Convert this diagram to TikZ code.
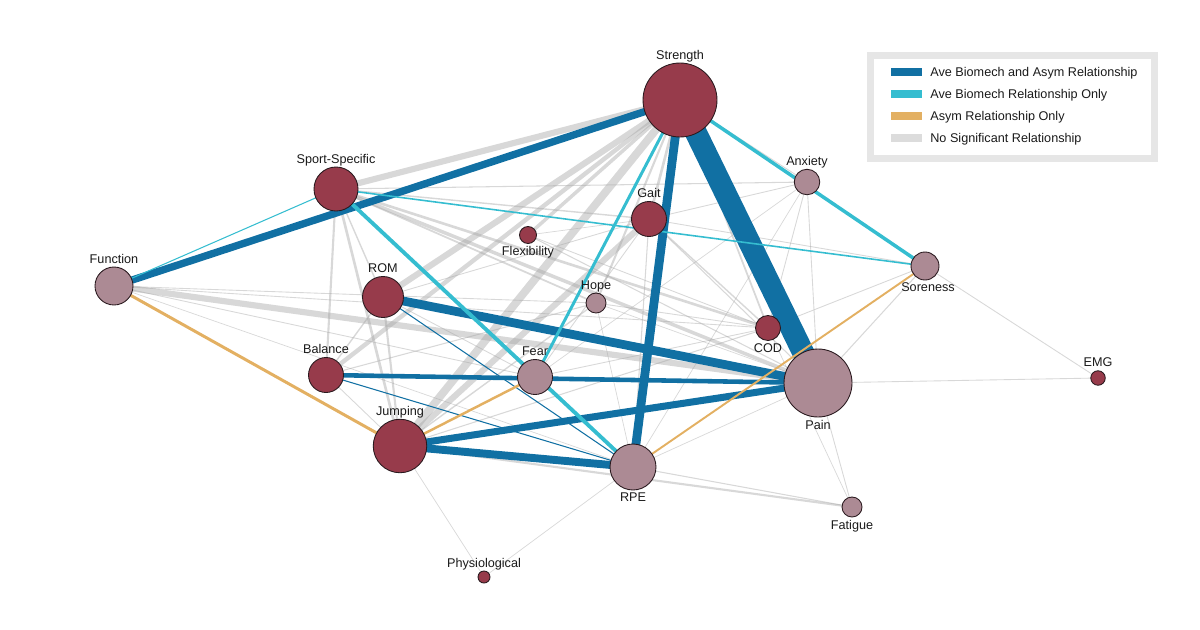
\documentclass[tikz,border=0pt]{standalone}
\usepackage{fontspec}
\setmainfont{Liberation Sans}
\definecolor{bothblue}{HTML}{1170A3}
\definecolor{avecyan}{HTML}{35BDD0}
\definecolor{asymorange}{HTML}{E3B062}
\definecolor{nonegray}{HTML}{DCDCDC}
\definecolor{nsline}{HTML}{A8A8A8}
\definecolor{ballred}{HTML}{973B4B}
\definecolor{ballmauve}{HTML}{AC8A94}
\definecolor{ballline}{HTML}{2A1A1F}
\definecolor{boxgray}{HTML}{E6E6E6}
\definecolor{labeltext}{HTML}{1A1A1A}
\pgfdeclarelayer{edges}
\pgfsetlayers{edges,main}
\tikzset{
  ball/.style={circle, draw=ballline, line width=0.5pt, inner sep=0pt},
  redball/.style={ball, fill=ballred},
  mauveball/.style={ball, fill=ballmauve},
  abovelbl/.style={inner sep=0pt, text depth=0pt, label distance=1.7pt, text=labeltext},
  belowlbl/.style={inner sep=0pt, label distance=1.2pt, text=labeltext},
  nsedge/.style={draw=nsline, draw opacity=0.45},
  bothedge/.style={draw=bothblue},
  aveedge/.style={draw=avecyan},
  asymedge/.style={draw=asymorange},
  legtext/.style={anchor=base west, inner sep=0pt, text=labeltext}
}
\begin{document}
\begin{tikzpicture}[x=0.02cm, y=-0.02cm, font=\fontsize{7.2}{8.6}\selectfont]
\useasboundingbox (0,0) rectangle (1200,629);
\node[redball, minimum size=1.48cm, label={[abovelbl]above:Strength}] (str) at (680,100) {};
\node[redball, minimum size=0.88cm, label={[abovelbl]above:Sport-Specific}] (spo) at (336,189) {};
\node[mauveball, minimum size=0.76cm, label={[abovelbl]above:Function}] (fun) at (114,286) {};
\node[redball, minimum size=0.82cm, label={[abovelbl]above:ROM}] (rom) at (383,297) {};
\node[redball, minimum size=0.70cm, label={[abovelbl]above:Balance}] (bal) at (326,375) {};
\node[redball, minimum size=1.07cm, label={[abovelbl]above:Jumping}] (jum) at (400,446) {};
\node[mauveball, minimum size=0.70cm, label={[abovelbl]above:Fear}] (fea) at (535,377) {};
\node[mauveball, minimum size=0.92cm, label={[belowlbl]below:RPE}] (rpe) at (633,467) {};
\node[mauveball, minimum size=1.36cm, label={[belowlbl]below:Pain}] (pai) at (818,383) {};
\node[redball, minimum size=0.70cm, label={[abovelbl]above:Gait}] (gai) at (649,219) {};
\node[redball, minimum size=0.34cm, label={[belowlbl]below:Flexibility}] (fle) at (528,235) {};
\node[mauveball, minimum size=0.40cm, label={[abovelbl]above:Hope}] (hop) at (596,303) {};
\node[redball, minimum size=0.50cm, label={[belowlbl]below:COD}] (cod) at (768,328) {};
\node[mauveball, minimum size=0.51cm, label={[abovelbl]above:Anxiety}] (anx) at (807,182) {};
\node[mauveball, minimum size=0.56cm, label={[belowlbl, xshift=0.06cm]below:Soreness}] (sor) at (925,266) {};
\node[redball, minimum size=0.29cm, label={[abovelbl]above:EMG}] (emg) at (1098,378) {};
\node[mauveball, minimum size=0.40cm, label={[belowlbl]below:Fatigue}] (fat) at (852,507) {};
\node[redball, minimum size=0.24cm, label={[abovelbl]above:Physiological}] (phy) at (484,577) {};
\begin{pgfonlayer}{edges}
\draw[nsedge, line width=3.5pt] (str.center) -- (spo.center);
\draw[nsedge, line width=3.5pt] (str.center) -- (rom.center);
\draw[nsedge, line width=2.5pt] (str.center) -- (bal.center);
\draw[nsedge, line width=4.5pt] (str.center) -- (jum.center);
\draw[nsedge, line width=2pt] (str.center) -- (fle.center);
\draw[nsedge, line width=1.2pt] (str.center) -- (hop.center);
\draw[nsedge, line width=1.5pt] (str.center) -- (gai.center);
\draw[nsedge, line width=1pt] (str.center) -- (cod.center);
\draw[nsedge, line width=0.5pt] (str.center) -- (anx.center);
\draw[nsedge, line width=3.5pt] (fun.center) -- (pai.center);
\draw[nsedge, line width=0.5pt] (fun.center) -- (hop.center);
\draw[nsedge, line width=0.5pt] (fun.center) -- (cod.center);
\draw[nsedge, line width=0.5pt] (fun.center) -- (fea.center);
\draw[nsedge, line width=0.4pt] (fun.center) -- (rpe.center);
\draw[nsedge, line width=0.8pt] (spo.center) -- (gai.center);
\draw[nsedge, line width=1.5pt] (spo.center) -- (cod.center);
\draw[nsedge, line width=2pt] (spo.center) -- (pai.center);
\draw[nsedge, line width=1pt] (spo.center) -- (hop.center);
\draw[nsedge, line width=0.6pt] (spo.center) -- (fea.center);
\draw[nsedge, line width=1.2pt] (spo.center) -- (bal.center);
\draw[nsedge, line width=1.5pt] (spo.center) -- (jum.center);
\draw[nsedge, line width=0.6pt] (spo.center) -- (anx.center);
\draw[nsedge, line width=0.8pt] (spo.center) -- (rom.center);
\draw[nsedge, line width=1.2pt] (rom.center) -- (jum.center);
\draw[nsedge, line width=0.5pt] (rom.center) -- (fea.center);
\draw[nsedge, line width=0.5pt] (rom.center) -- (gai.center);
\draw[nsedge, line width=0.8pt] (rom.center) -- (bal.center);
\draw[nsedge, line width=3.5pt] (jum.center) -- (gai.center);
\draw[nsedge, line width=0.8pt] (jum.center) -- (hop.center);
\draw[nsedge, line width=0.6pt] (jum.center) -- (cod.center);
\draw[nsedge, line width=1.2pt] (jum.center) -- (fat.center);
\draw[nsedge, line width=0.4pt] (jum.center) -- (phy.center);
\draw[nsedge, line width=0.6pt] (bal.center) -- (hop.center);
\draw[nsedge, line width=0.5pt] (bal.center) -- (jum.center);
\draw[nsedge, line width=0.5pt] (fea.center) -- (gai.center);
\draw[nsedge, line width=0.5pt] (fea.center) -- (cod.center);
\draw[nsedge, line width=0.4pt] (fea.center) -- (anx.center);
\draw[nsedge, line width=0.6pt] (rpe.center) -- (fat.center);
\draw[nsedge, line width=0.4pt] (rpe.center) -- (anx.center);
\draw[nsedge, line width=0.6pt] (rpe.center) -- (gai.center);
\draw[nsedge, line width=0.4pt] (rpe.center) -- (pai.center);
\draw[nsedge, line width=0.4pt] (rpe.center) -- (hop.center);
\draw[nsedge, line width=0.4pt] (rpe.center) -- (phy.center);
\draw[nsedge, line width=0.5pt] (hop.center) -- (cod.center);
\draw[nsedge, line width=0.4pt] (hop.center) -- (pai.center);
\draw[nsedge, line width=0.8pt] (gai.center) -- (cod.center);
\draw[nsedge, line width=0.6pt] (gai.center) -- (pai.center);
\draw[nsedge, line width=0.5pt] (gai.center) -- (anx.center);
\draw[nsedge, line width=0.5pt] (gai.center) -- (sor.center);
\draw[nsedge, line width=0.5pt] (cod.center) -- (anx.center);
\draw[nsedge, line width=0.5pt] (cod.center) -- (sor.center);
\draw[nsedge, line width=0.4pt] (cod.center) -- (fat.center);
\draw[nsedge, line width=0.5pt] (pai.center) -- (anx.center);
\draw[nsedge, line width=0.6pt] (pai.center) -- (sor.center);
\draw[nsedge, line width=0.5pt] (pai.center) -- (emg.center);
\draw[nsedge, line width=0.5pt] (sor.center) -- (emg.center);
\draw[nsedge, line width=0.5pt] (pai.center) -- (fat.center);
\draw[nsedge, line width=0.6pt] (fle.center) -- (pai.center);
\draw[nsedge, line width=0.5pt] (fle.center) -- (cod.center);
\draw[nsedge, line width=0.4pt] (fle.center) -- (gai.center);
\draw[bothedge, line width=4.2pt] (str.center) -- (fun.center);
\draw[bothedge, line width=12.5pt] (str.center) -- (pai.center);
\draw[bothedge, line width=5pt] (str.center) -- (rpe.center);
\draw[bothedge, line width=5pt] (rom.center) -- (pai.center);
\draw[bothedge, line width=2.6pt] (bal.center) -- (pai.center);
\draw[bothedge, line width=4pt] (jum.center) -- (pai.center);
\draw[bothedge, line width=4.5pt] (jum.center) -- (rpe.center);
\draw[bothedge, line width=0.6pt] (rom.center) -- (rpe.center);
\draw[bothedge, line width=0.6pt] (bal.center) -- (rpe.center);
\draw[aveedge, line width=2pt] (str.center) -- (sor.center);
\draw[aveedge, line width=1.7pt] (str.center) -- (fea.center);
\draw[aveedge, line width=2.2pt] (spo.center) -- (rpe.center);
\draw[aveedge, line width=0.9pt] (spo.center) -- (sor.center);
\draw[aveedge, line width=0.6pt] (fun.center) -- (spo.center);
\draw[asymedge, line width=1.7pt] (fun.center) -- (jum.center);
\draw[asymedge, line width=1.4pt] (jum.center) -- (fea.center);
\draw[asymedge, line width=1.1pt] (rpe.center) -- (sor.center);
\end{pgfonlayer}
\draw[boxgray, line width=4pt] (870.5,55.5) rectangle (1154.5,158.5);
\draw[bothblue, line width=4pt] (891,72) -- (922,72);
\draw[avecyan, line width=4pt] (891,94) -- (922,94);
\draw[asymorange, line width=4pt] (891,116) -- (922,116);
\draw[nonegray, line width=4pt] (891,138) -- (922,138);
\node[legtext] (legboth) at (930,76.5) {Ave Biomech and Asym Relationship};
\node[legtext] (legave) at (930,98.5) {Ave Biomech Relationship Only};
\node[legtext] (legasym) at (930,120.5) {Asym Relationship Only};
\node[legtext] (legnone) at (930,142.5) {No Significant Relationship};
\end{tikzpicture}
\end{document}
